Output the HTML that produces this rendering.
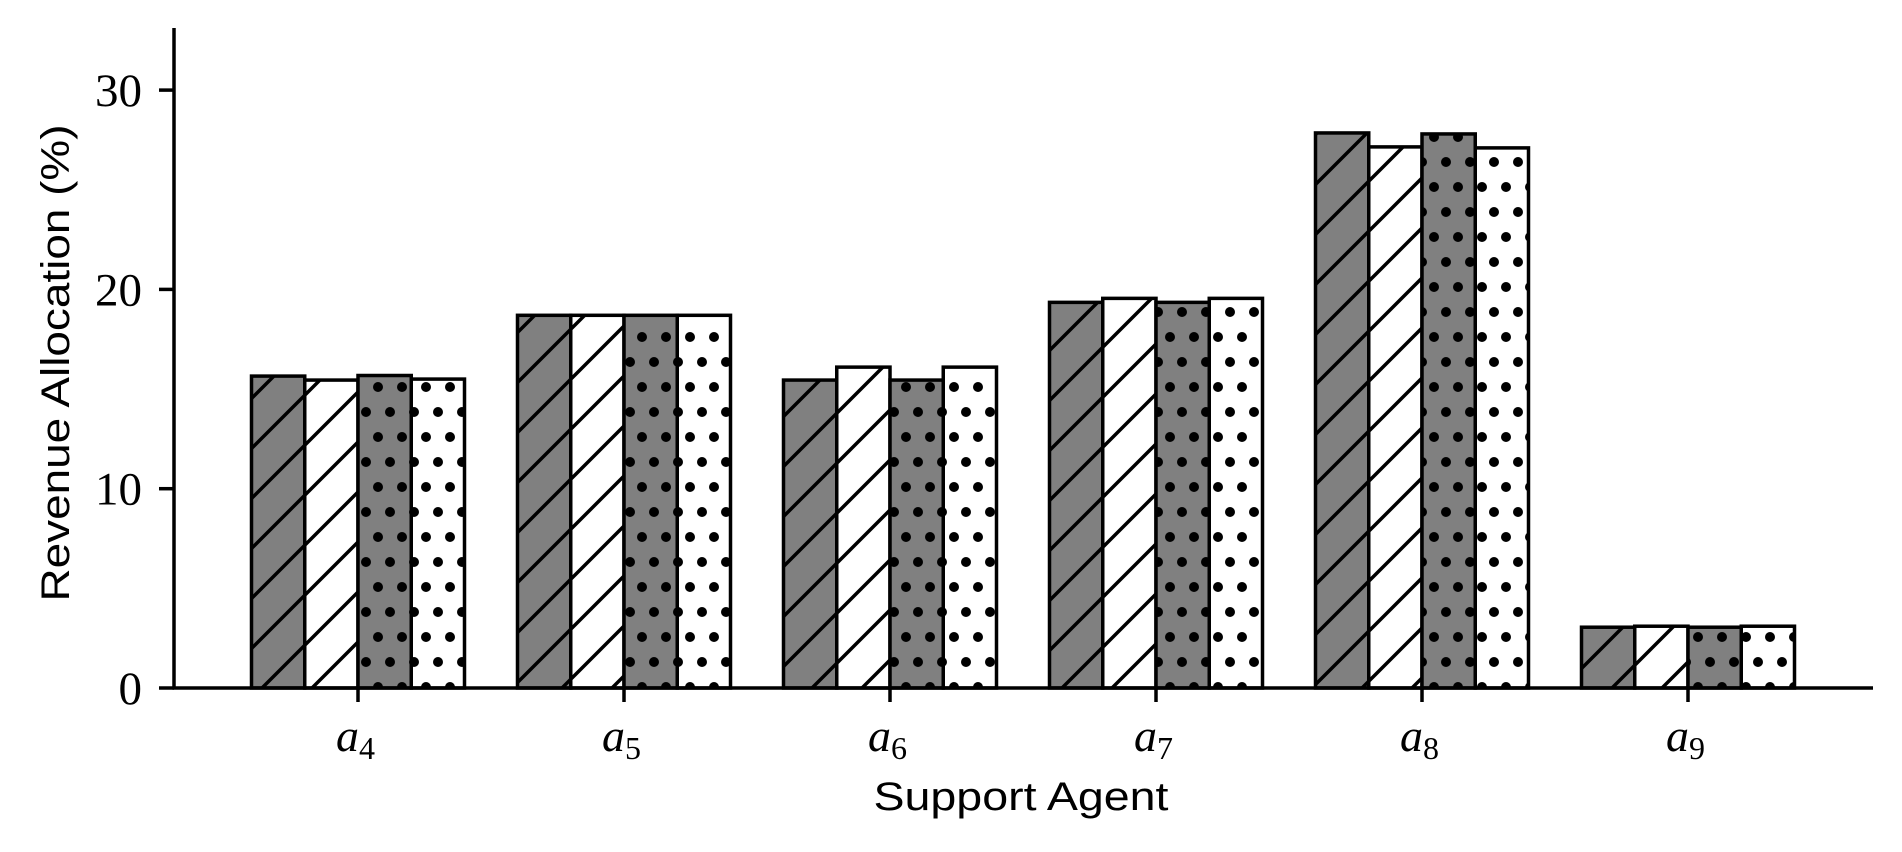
<!DOCTYPE html>
<html><head><meta charset="utf-8"><style>html,body{margin:0;padding:0;background:#fff;}svg{display:block}</style></head>
<body>
<svg id="chart" width="1902" height="852" viewBox="0 0 1902 852" xmlns="http://www.w3.org/2000/svg">
<defs>
<pattern id="hatch-gray" patternUnits="userSpaceOnUse" width="50" height="50">
<rect width="50" height="50" fill="#808080"/>
<path d="M-5,55 L55,-5 M-30,30 L30,-30 M20,80 L80,20" stroke="#000" stroke-width="3.5"/>
</pattern>
<pattern id="hatch-white" patternUnits="userSpaceOnUse" width="50" height="50">
<rect width="50" height="50" fill="#fff"/>
<path d="M-5,55 L55,-5 M-30,30 L30,-30 M20,80 L80,20" stroke="#000" stroke-width="3.5"/>
</pattern>
<pattern id="dots-gray" patternUnits="userSpaceOnUse" width="24" height="50">
<rect width="24" height="50" fill="#808080"/>
<circle cx="6" cy="12" r="5" fill="#000"/><circle cx="18" cy="37" r="5" fill="#000"/>
</pattern>
<pattern id="dots-white" patternUnits="userSpaceOnUse" width="24" height="50">
<rect width="24" height="50" fill="#fff"/>
<circle cx="6" cy="12" r="5" fill="#000"/><circle cx="18" cy="37" r="5" fill="#000"/>
</pattern>
</defs>
<g id="bars"></g>
<g id="axes"></g>
</svg>
<script>
const categories = ["4", "5", "6", "7", "8", "9"];
const seriesA = [15.65, 18.7, 15.45, 19.35, 27.85, 3.05];
const seriesB = [15.45, 18.7, 16.1, 19.55, 27.15, 3.1];
const seriesC = [15.68, 18.7, 15.45, 19.35, 27.8, 3.05];
const seriesD = [15.5, 18.7, 16.1, 19.55, 27.1, 3.1];
const yTicks = [0, 10, 20, 30];

const NS = "http://www.w3.org/2000/svg";
const x0 = 358, step = 266, groupW = 213;
const yZero = 688, yPerUnit = 19.93;
function xCenter(i){ return x0 + i*step; }
function yScale(v){ return yZero - v*yPerUnit; }
function mk(tag, attrs, parent){ const e=document.createElementNS(NS,tag); for(const k in attrs) e.setAttribute(k, attrs[k]); parent.appendChild(e); return e; }

const series = [seriesA, seriesB, seriesC, seriesD];
const fills = ["url(#hatch-gray)","url(#hatch-white)","url(#dots-gray)","url(#dots-white)"];
const sNames = ["gray-hatch","white-hatch","gray-dots","white-dots"];
const barsG = document.getElementById('bars');
const bw = groupW/4;
categories.forEach((c,i)=>{
  series.forEach((s,j)=>{
    const x = xCenter(i) - groupW/2 + j*bw;
    const r = mk('rect',{x:x, y:yScale(s[i]), width:bw, height:yZero-yScale(s[i]), fill:fills[j], stroke:'#000', 'stroke-width':3.5}, barsG);
    
    
  });
});

const ax = document.getElementById('axes');
const yAxis = mk('line',{x1:174,y1:28,x2:174,y2:689.5,stroke:'#000','stroke-width':3.5},ax);


const xAxis = mk('line',{x1:172.5,y1:688,x2:1873,y2:688,stroke:'#000','stroke-width':3.5},ax);


yTicks.forEach(t=>{
  const y=yScale(t);
  const tk = mk('line',{x1:159,y1:y,x2:174,y2:y,stroke:'#000','stroke-width':3.5},ax);
  
  
  const tx = mk('text',{x:142,y:y+16,'text-anchor':'end','font-family':'"Liberation Serif", serif','font-size':47},ax);
  tx.textContent = t;
  
  
});
categories.forEach((c,i)=>{
  const x=xCenter(i);
  const tk = mk('line',{x1:x,y1:688,x2:x,y2:702,stroke:'#000','stroke-width':3.5},ax);
  
  
  const tx = mk('text',{x:x-22,y:751,'font-family':'"Liberation Serif", serif','font-size':46,'font-style':'italic'},ax);
  
  
  tx.textContent='a';
  const sub = mk('tspan',{dy:8,'font-size':32,'font-style':'normal'},tx);
  sub.textContent=c;
});
const xl = mk('text',{x:1021,y:810,'text-anchor':'middle','font-family':'"Liberation Sans", sans-serif','font-size':40,textLength:295,lengthAdjust:'spacingAndGlyphs'},ax);
xl.textContent='Support Agent';


const yl = mk('text',{x:0,y:0,'text-anchor':'middle','font-family':'"Liberation Sans", sans-serif','font-size':40,textLength:477,lengthAdjust:'spacingAndGlyphs',transform:'translate(69,363) rotate(-90)'},ax);
yl.textContent='Revenue Allocation (%)';


</script>
</body></html>
